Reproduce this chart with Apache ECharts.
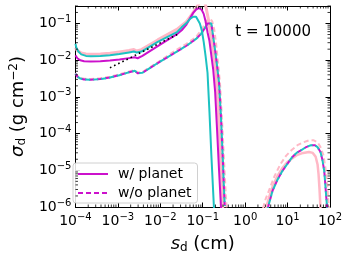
<!DOCTYPE html>
<html>
<head>
<meta charset="utf-8">
<script src="https://cdn.jsdelivr.net/npm/echarts@6/dist/echarts.min.js"></script>
<style>
html,body{margin:0;padding:0;background:#fff;}
#chart{width:349px;height:259px;}
</style>
</head>
<body>
<div id="chart"></div>
<script>
// ---- data: [grain size s_d (cm), sigma_d (g cm^-2)] ----
const magentaSolid = [
  [1.0e-4, 0.0135], [1.11e-4, 0.0113], [1.30e-4, 0.0100], [1.60e-4, 0.0094],
  [2.30e-4, 0.00924], [3.86e-4, 0.0094], [6.49e-4, 0.0098], [1.09e-3, 0.0104],
  [1.83e-3, 0.0114], [2.50e-3, 0.0120], [2.92e-3, 0.0113], [3.25e-3, 0.01164],
  [3.79e-3, 0.0131], [8.71e-3, 0.0241], [0.0246, 0.0514], [0.0319, 0.0655],
  [0.0414, 0.094], [0.0509, 0.144], [0.0596, 0.195], [0.0696, 0.241],
  [0.0812, 0.264], [0.095, 0.233], [0.1054, 0.183], [0.117, 0.113],
  [0.1297, 0.058], [0.1439, 0.0336], [0.1596, 0.0135], [0.177, 0.00546],
  [0.1963, 0.00135], [0.2183, 1.2e-4], [0.242, 1.06e-5], [0.2685, 1.07e-6],
  [0.2826, 3.8e-7]
];
const cyanSolid = [
  [1.0e-4, 0.028], [1.05e-4, 0.022], [1.17e-4, 0.0172], [1.37e-4, 0.0144],
  [1.77e-4, 0.0131], [2.30e-4, 0.0129], [3.86e-4, 0.0131], [6.49e-4, 0.0137],
  [1.09e-3, 0.0148], [1.83e-3, 0.0163], [2.38e-3, 0.0172], [2.78e-3, 0.0163],
  [3.08e-3, 0.0153], [3.6e-3, 0.0172], [8.71e-3, 0.0316], [0.0246, 0.058],
  [0.0319, 0.0785], [0.0414, 0.103], [0.0509, 0.1355], [0.0596, 0.153],
  [0.0696, 0.153], [0.0771, 0.1355], [0.0855, 0.100], [0.095, 0.0655],
  [0.1054, 0.0316], [0.117, 0.0127], [0.1297, 0.00455], [0.1439, 4.03e-4],
  [0.1596, 2.64e-5], [0.177, 2.33e-6], [0.1865, 6.9e-7]
];
const pinkSolid = [
  [1.0e-4, 0.022], [1.11e-4, 0.0183], [1.37e-4, 0.0157], [1.77e-4, 0.0148],
  [2.30e-4, 0.01456], [3.86e-4, 0.0148], [6.49e-4, 0.01546], [1.09e-3, 0.01675],
  [1.83e-3, 0.0183], [2.38e-3, 0.0195], [2.78e-3, 0.0178], [3.08e-3, 0.0172],
  [3.6e-3, 0.0195], [8.71e-3, 0.0357], [0.0246, 0.0695], [0.0414, 0.113],
  [0.0565, 0.183], [0.0696, 0.264], [0.0855, 0.38], [0.1054, 0.43],
  [0.117, 0.316], [0.1367, 0.127], [0.1596, 0.038], [0.1865, 0.0113],
  [0.207, 0.00455], [0.2296, 5.46e-4], [0.2547, 4.83e-5], [0.2826, 4.28e-6],
  [0.2977, 9.4e-7]
];
const pinkSolidHump = [
  [3.08, 9.4e-7], [3.61, 1.73e-6], [4.44, 3.57e-6], [5.75, 6.95e-6],
  [7.46, 1.13e-5], [9.67, 1.63e-5], [12.5, 2.07e-5], [17.1, 2.64e-5],
  [23.4, 2.98e-5], [31.9, 3.16e-5], [39.3, 2.98e-5], [45.9, 2.33e-5],
  [50.9, 1.44e-5], [53.7, 7.85e-6], [56.5, 3.16e-6], [59.6, 9.4e-7]
];
const dashedMain = [
  [1.0e-4, 0.00428], [1.11e-4, 0.00357], [1.30e-4, 0.00316], [1.60e-4, 0.00298],
  [2.30e-4, 0.00292], [3.86e-4, 0.00307], [6.49e-4, 0.00336], [1.09e-3, 0.00391],
  [1.83e-3, 0.00469], [2.50e-3, 0.00514], [2.92e-3, 0.00441], [3.25e-3, 0.00403],
  [3.79e-3, 0.00455], [8.71e-3, 0.00834], [0.0246, 0.0172], [0.0414, 0.0248],
  [0.0696, 0.038], [0.0902, 0.0514], [0.111, 0.0738], [0.1297, 0.100],
  [0.1439, 0.110], [0.1596, 0.100], [0.177, 0.0428], [0.1963, 0.0183],
  [0.2183, 0.00695], [0.242, 0.00248], [0.2685, 2.98e-4], [0.298, 1.95e-5],
  [0.313, 4.28e-6], [0.330, 1.07e-6]
];
const pinkDashedMain = [
  [1.0e-4, 0.00450], [1.11e-4, 0.00376], [1.30e-4, 0.00333], [1.60e-4, 0.00314],
  [2.30e-4, 0.00308], [3.86e-4, 0.00323], [6.49e-4, 0.00354], [1.09e-3, 0.00412],
  [1.83e-3, 0.00494], [2.50e-3, 0.00541], [2.92e-3, 0.00464], [3.25e-3, 0.00424],
  [3.79e-3, 0.00479], [8.71e-3, 0.00878], [0.0246, 0.0195], [0.0414, 0.028],
  [0.0696, 0.0428], [0.095, 0.0695], [0.1297, 0.127], [0.1517, 0.1355],
  [0.168, 0.113], [0.1865, 0.0695], [0.207, 0.028], [0.2296, 0.00834],
  [0.2547, 0.00248], [0.2826, 2.98e-4], [0.313, 2.64e-5], [0.348, 2.33e-6],
  [0.367, 9.4e-7]
];
const dashedHump = [
  [3.42, 9.4e-7], [4.44, 2.8e-6], [5.75, 5.46e-6], [7.46, 9.4e-6],
  [9.67, 1.44e-5], [12.5, 2.2e-5], [16.3, 2.98e-5], [21.1, 3.57e-5],
  [27.3, 4.28e-5], [35.4, 4.83e-5], [43.6, 4.83e-5], [50.9, 4.28e-5],
  [59.6, 3.16e-5], [66.1, 1.95e-5], [73.3, 9.4e-6], [77.3, 4.28e-6],
  [81.3, 1.95e-6], [85.7, 9.4e-7]
];
const pinkDashedHump = [
  [2.64, 9.4e-7], [3.08, 1.73e-6], [3.79, 3.16e-6], [4.92, 6.95e-6],
  [6.72, 1.44e-5], [9.18, 2.48e-5], [12.5, 3.57e-5], [17.1, 4.83e-5],
  [23.4, 5.8e-5], [31.9, 6.55e-5], [41.4, 6.55e-5], [50.9, 5.8e-5],
  [59.6, 4.28e-5], [69.7, 2.64e-5], [77.3, 1.27e-5], [85.7, 4.28e-6],
  [90.2, 1.73e-6], [95.0, 9.4e-7]
];
const slopeLine = [[6.5e-4, 0.0062], [0.025, 0.050]];
const legendNames = ['w/ planet', 'w/o planet'];
const annotation = 't = 10000';

// ---- styling ----
const FONT = 'DejaVu Sans';
const MAG = '#cc11cc', CYAN = '#1cc2c2', PINK = '#ffb8c6';
const X_MIN = 1e-4, X_MAX = 100, Y_MIN = 1e-6, Y_MAX = 0.3;

function supLabel(v) {
  const e = Math.round(Math.log10(v));
  if (Math.abs(Math.log10(v) - e) > 1e-6) return '';
  return '10{sup|' + (e < 0 ? '\u2212' + (-e) : String(e)) + '}';
}
const labelRich = {
  sup: {fontSize: 10, fontFamily: FONT, color: '#000', padding: [0, 0, 8, 0], verticalAlign: 'top'}
};

const xMinor = [], yMinor = [];
for (let k = -4; k < 2; k++) for (let m = 2; m < 10; m++) xMinor.push(m * Math.pow(10, k));
for (let k = -6; k < 0; k++) for (let m = 2; m < 10; m++) { const v = m * Math.pow(10, k); if (v <= Y_MAX * 1.0001) yMinor.push(v); }

function axisCommon(extra) {
  return Object.assign({
    type: 'log', logBase: 10, interval: 1,
    axisLine: {show: true, lineStyle: {color: '#000', width: 1}},
    axisTick: {show: true, inside: true, length: 4.5, lineStyle: {color: '#000', width: 1}},
    splitLine: {show: false},
    minorTick: {show: false}
  }, extra);
}

function lineSeries(name, data, color, width, type, z, offset) {
  return {
    name: name, type: 'line', data: data, symbol: 'none', smooth: false,
    xAxisIndex: 0, yAxisIndex: 0, clip: true, z: z, silent: true,
    lineStyle: {color: color, width: width, type: type, dashOffset: offset || 0, join: 'round', cap: 'butt'},
    itemStyle: {color: color}
  };
}

const chart = echarts.init(document.getElementById('chart'), null, {renderer: 'canvas'});
chart.setOption({
  animation: false,
  backgroundColor: '#fff',
  grid: {left: 64, right: 19, top: 6, bottom: 46},
  title: {
    text: annotation, right: 33, top: 20,
    textStyle: {fontFamily: FONT, fontSize: 15, fontWeight: 'normal', color: '#000'}
  },
  legend: {
    data: legendNames.map(n => ({name: n})),
    orient: 'vertical', left: 73, top: 163,
    itemWidth: 30, itemHeight: 14, itemGap: 5,
    padding: [4, 6, 3, 4],
    borderColor: '#d0d0d0', borderWidth: 1, borderRadius: 3,
    backgroundColor: 'rgba(255,255,255,0.85)',
    itemStyle: {opacity: 0},
    textStyle: {fontFamily: FONT, fontSize: 14, color: '#000', padding: [0, 0, 0, 5]}
  },
  xAxis: [
    axisCommon({
      min: X_MIN, max: X_MAX, position: 'bottom',
      axisLabel: {show: true, margin: 5, formatter: supLabel, fontFamily: FONT, fontSize: 14, color: '#000', rich: labelRich},
      name: '{i|s}{sub|d} (cm)', nameLocation: 'middle', nameGap: 27,
      nameTextStyle: {fontFamily: FONT, fontSize: 18, color: '#000',
        rich: {i: {fontFamily: FONT, fontSize: 18, fontStyle: 'italic'},
               sub: {fontFamily: FONT, fontSize: 12, padding: [8, 0, 0, 0], verticalAlign: 'bottom'}}}
    }),
    axisCommon({min: X_MIN, max: X_MAX, position: 'top', axisLabel: {show: false}})
  ],
  yAxis: [
    axisCommon({
      min: Y_MIN, max: Y_MAX, position: 'left',
      axisLabel: {show: true, margin: 4, formatter: supLabel, fontFamily: FONT, fontSize: 14, color: '#000', rich: labelRich},
      name: '{i|\u03c3}{sub|d} (g cm{sup|\u22122})', nameLocation: 'middle', nameGap: 40, nameRotate: 90,
      nameTextStyle: {fontFamily: FONT, fontSize: 18, color: '#000',
        rich: {i: {fontFamily: FONT, fontSize: 18, fontStyle: 'italic'},
               sub: {fontFamily: FONT, fontSize: 12, padding: [8, 0, 0, 0], verticalAlign: 'bottom'},
               sup: {fontFamily: FONT, fontSize: 12, padding: [0, 0, 8, 0], verticalAlign: 'top'}}}
    }),
    axisCommon({min: Y_MIN, max: Y_MAX, position: 'right', axisLabel: {show: false}})
  ],
  series: [
    lineSeries('pinkSolid', pinkSolid, PINK, 3, 'solid', 2),
    lineSeries('pinkSolidHump', pinkSolidHump, PINK, 2.5, 'solid', 2),
    lineSeries('pinkDashed', pinkDashedMain, PINK, 2, [5, 3], 3),
    lineSeries('pinkDashedHump', pinkDashedHump, PINK, 2, [5, 3], 3),
    lineSeries('w/o planet', dashedMain, MAG, 2, [5, 3], 4),
    lineSeries('magDashedHump', dashedHump, MAG, 2, [5, 3], 4),
    lineSeries('cyanDashed', dashedMain, CYAN, 2, [5, 3], 5, 4),
    lineSeries('cyanDashedHump', dashedHump, CYAN, 2, [5, 3], 5, 4),
    lineSeries('w/ planet', magentaSolid, MAG, 2, 'solid', 6),
    lineSeries('cyanSolid', cyanSolid, CYAN, 2, 'solid', 7),
    lineSeries('slope', slopeLine, '#000', 1.6, [1.6, 3], 8),
    {
      type: 'custom', silent: true, z: 10,
      data: xMinor.map(v => [v, 1e-3]),
      renderItem: function (params, api) {
        const p = api.coord([api.value(0), api.value(1)]);
        const cs = params.coordSys;
        const st = {stroke: '#000', lineWidth: 0.8};
        return {type: 'group', children: [
          {type: 'line', shape: {x1: p[0], y1: cs.y + cs.height, x2: p[0], y2: cs.y + cs.height - 2.5}, style: st},
          {type: 'line', shape: {x1: p[0], y1: cs.y, x2: p[0], y2: cs.y + 2.5}, style: st}
        ]};
      }
    },
    {
      type: 'custom', silent: true, z: 10,
      data: yMinor.map(v => [1, v]),
      renderItem: function (params, api) {
        const p = api.coord([api.value(0), api.value(1)]);
        const cs = params.coordSys;
        const st = {stroke: '#000', lineWidth: 0.8};
        return {type: 'group', children: [
          {type: 'line', shape: {x1: cs.x, y1: p[1], x2: cs.x + 2.5, y2: p[1]}, style: st},
          {type: 'line', shape: {x1: cs.x + cs.width, y1: p[1], x2: cs.x + cs.width - 2.5, y2: p[1]}, style: st}
        ]};
      }
    }
  ]
});
</script>
</body>
</html>
